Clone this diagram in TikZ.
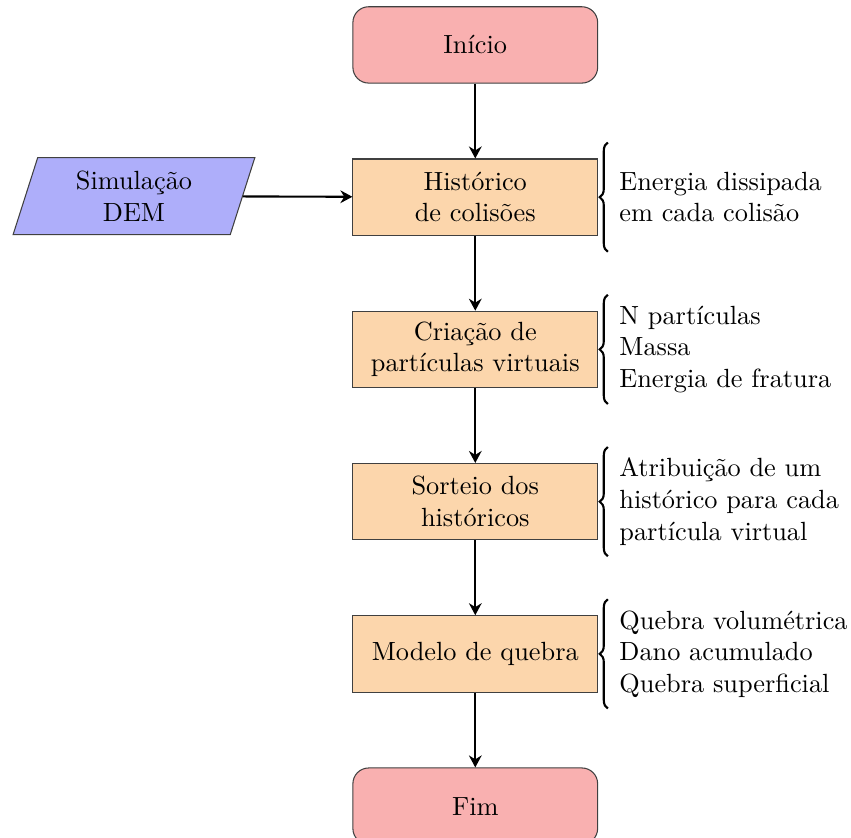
\documentclass[tikz,border=0pt]{standalone}
\usetikzlibrary{arrows.meta,positioning,shapes.geometric,calc,decorations.pathreplacing}
\definecolor{rose}{RGB}{249,176,176}
\definecolor{peach}{RGB}{252,214,172}
\definecolor{lilac}{RGB}{174,174,250}
\tikzset{
  >={Stealth[length=1.6mm,width=1.7mm]},
  term/.style={draw=black!75,fill=rose,rounded corners=6pt,minimum width=3.27cm,
    minimum height=1.02cm,align=center},
  proc/.style={draw=black!75,fill=peach,minimum width=3.27cm,minimum height=1.02cm,align=center},
  inp/.style={trapezium,trapezium left angle=70,trapezium right angle=110,trapezium stretches body,
    draw=black!75,fill=lilac,minimum width=3.23cm,minimum height=1.03cm,align=center},
  flow/.style={->,thick},
  brace/.style={decorate,decoration={brace,amplitude=1.1mm},thick},
  note/.style={align=left,anchor=west},
}
\begin{document}
\begin{tikzpicture}[node distance=1cm]
  \useasboundingbox (0,0) rectangle (11.37,-11.19);
  \node[term] (ini) at (6.35,-0.6) {Início};
  \node[proc,below=of ini] (hist) {Histórico\\de colisões};
  \node[proc,below=of hist] (cria) {Criação de\\partículas virtuais};
  \node[proc,below=of cria] (sort) {Sorteio dos\\históricos};
  \node[proc,below=of sort] (mod) {Modelo de quebra};
  \node[term,below=of mod] (fim) {Fim};
  \node[inp] (dem) at (1.79,-2.62) {Simulação\\DEM};
  \foreach \a/\b in {ini/hist,hist/cria,cria/sort,sort/mod,mod/fim} \draw[flow] (\a) -- (\b);
  \draw[flow] (dem) -- (hist);
  % chaves com os detalhes de cada etapa
  \foreach \n/\t in {hist/{Energia dissipada\\em cada colisão},
    cria/{N partículas\\Massa\\Energia de fratura},
    sort/{Atribuição de um\\histórico para cada\\partícula virtual},
    mod/{Quebra volumétrica\\Dano acumulado\\Quebra superficial}}{
    \draw[brace] ($(\n.east)+(0.13,-0.73)$) -- ($(\n.east)+(0.13,0.73)$);
    \node[note,right=1.6mm of \n] (n\n) {\t};
  }
\end{tikzpicture}
\end{document}
